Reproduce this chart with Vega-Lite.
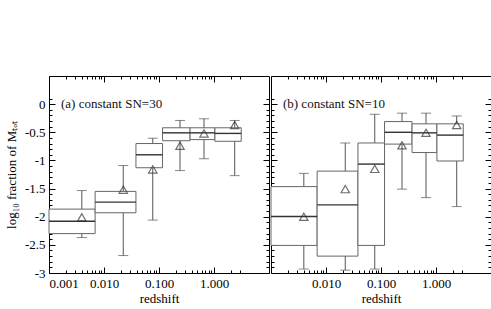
{
  "$schema": "https://vega.github.io/schema/vega-lite/v6.json",
  "padding": {"left": 5, "top": 75, "right": 0, "bottom": 0},
  "background": "white",
  "datasets": {
    "boxes": [
      {"panel": "a", "x1": 0.001, "x2": 0.0069, "xm": 0.00395, "lo": -2.37, "q1": -2.30, "med": -2.08, "q3": -1.865, "hi": -1.535, "mean": -2.01},
      {"panel": "a", "x1": 0.0069, "x2": 0.0381, "xm": 0.0224, "lo": -2.69, "q1": -1.93, "med": -1.74, "q3": -1.55, "hi": -1.09, "mean": -1.52},
      {"panel": "a", "x1": 0.0381, "x2": 0.116, "xm": 0.077, "lo": -2.06, "q1": -1.13, "med": -0.90, "q3": -0.70, "hi": -0.605, "mean": -1.16},
      {"panel": "a", "x1": 0.116, "x2": 0.367, "xm": 0.241, "lo": -1.18, "q1": -0.65, "med": -0.51, "q3": -0.42, "hi": -0.29, "mean": -0.74},
      {"panel": "a", "x1": 0.367, "x2": 1.04, "xm": 0.658, "lo": -0.97, "q1": -0.63, "med": -0.51, "q3": -0.42, "hi": -0.26, "mean": -0.52},
      {"panel": "a", "x1": 1.04, "x2": 3.13, "xm": 2.38, "lo": -1.27, "q1": -0.66, "med": -0.52, "q3": -0.42, "hi": -0.29, "mean": -0.37},
      {"panel": "b", "x1": 0.001, "x2": 0.0069, "xm": 0.00395, "lo": -2.93, "q1": -2.51, "med": -1.995, "q3": -1.465, "hi": -1.23, "mean": -2.0},
      {"panel": "b", "x1": 0.0069, "x2": 0.0381, "xm": 0.0224, "lo": -2.95, "q1": -2.70, "med": -1.79, "q3": -1.19, "hi": -0.69, "mean": -1.51},
      {"panel": "b", "x1": 0.0381, "x2": 0.116, "xm": 0.077, "lo": -2.93, "q1": -2.51, "med": -1.065, "q3": -0.69, "hi": -0.18, "mean": -1.15},
      {"panel": "b", "x1": 0.116, "x2": 0.367, "xm": 0.241, "lo": -1.51, "q1": -0.71, "med": -0.50, "q3": -0.31, "hi": -0.16, "mean": -0.73},
      {"panel": "b", "x1": 0.367, "x2": 1.04, "xm": 0.658, "lo": -1.66, "q1": -0.86, "med": -0.51, "q3": -0.35, "hi": -0.16, "mean": -0.51},
      {"panel": "b", "x1": 1.04, "x2": 3.13, "xm": 2.38, "lo": -1.82, "q1": -1.01, "med": -0.55, "q3": -0.35, "hi": -0.21, "mean": -0.37}
    ],
    "labels": [
      {"panel": "a", "label": "(a) constant SN=30", "lx": 0.00165, "ly": 0},
      {"panel": "b", "label": "(b) constant SN=10", "lx": 0.00165, "ly": 0}
    ]
  },
  "config": {
    "view": {"stroke": null},
    "axis": {
      "grid": false,
      "domainColor": "#000",
      "tickColor": "#000",
      "labelColor": "#000",
      "titleColor": "#000",
      "labelFont": "Liberation Serif",
      "titleFont": "Liberation Serif",
      "labelFontSize": 13,
      "titleFontSize": 13,
      "titleFontWeight": "normal"
    }
  },
  "spacing": 0,
  "hconcat": [
    {
      "width": 220,
      "height": 197,
      "data": {"name": "boxes"},
      "transform": [{"filter": "datum.panel == 'a'"}],
      "layer": [
        {
          "mark": {"type": "rule", "color": "#555"},
          "encoding": {
            "x": {"field": "xm", "type": "quantitative", "scale": {"type": "log", "domain": [0.001, 3.5]},
                  "axis": {"orient": "bottom", "values": [0.001, 0.01, 0.1, 1], "format": ".3f", "tickSize": -6, "labelPadding": 10, "title": "redshift", "titlePadding": 2}},
            "y": {"field": "lo", "type": "quantitative", "scale": {"domain": [-3, 0.2]},
                  "axis": {"orient": "left", "values": [-3, -2.5, -2, -1.5, -1, -0.5, 0], "labelExpr": "'' + datum.value", "tickSize": -6, "labelPadding": 10, "title": "log₁₀ fraction of Mₜₒₜ", "titlePadding": 6}},
            "y2": {"field": "hi"}
          }
        },
        {
          "mark": {"type": "tick", "orient": "horizontal", "color": "#555", "size": 10, "thickness": 1},
          "encoding": {
            "x": {"field": "xm", "type": "quantitative",
                  "axis": {"orient": "bottom", "values": [0.002, 0.003, 0.004, 0.005, 0.006, 0.007, 0.008, 0.009, 0.02, 0.03, 0.04, 0.05, 0.06, 0.07, 0.08, 0.09, 0.2, 0.3, 0.4, 0.5, 0.6, 0.7, 0.8, 0.9, 2, 3], "labels": false, "tickSize": -3, "domain": false, "title": null}},
            "y": {"field": "hi", "type": "quantitative",
                  "axis": {"orient": "left", "values": [-2.9, -2.8, -2.7, -2.6, -2.4, -2.3, -2.2, -2.1, -1.9, -1.8, -1.7, -1.6, -1.4, -1.3, -1.2, -1.1, -0.9, -0.8, -0.7, -0.6, -0.4, -0.3, -0.2, -0.1, 0.1], "labels": false, "tickSize": -3, "domain": false, "title": null}}
          }
        },
        {
          "mark": {"type": "tick", "orient": "horizontal", "color": "#555", "size": 10, "thickness": 1},
          "encoding": {
            "x": {"field": "xm", "type": "quantitative",
                  "axis": {"orient": "top", "values": [0.001, 0.01, 0.1, 1], "labels": false, "tickSize": -6, "title": null}},
            "y": {"field": "lo", "type": "quantitative",
                  "axis": {"orient": "right", "values": [-3, -2.5, -2, -1.5, -1, -0.5, 0], "labels": false, "tickSize": -6, "title": null}}
          }
        },
        {
          "mark": {"type": "rect", "fill": "white", "stroke": "#666", "strokeWidth": 1},
          "encoding": {
            "x": {"field": "x1", "type": "quantitative",
                  "axis": {"orient": "top", "values": [0.002, 0.003, 0.004, 0.005, 0.006, 0.007, 0.008, 0.009, 0.02, 0.03, 0.04, 0.05, 0.06, 0.07, 0.08, 0.09, 0.2, 0.3, 0.4, 0.5, 0.6, 0.7, 0.8, 0.9, 2, 3], "labels": false, "tickSize": -3, "domain": false, "title": null}},
            "x2": {"field": "x2"},
            "y": {"field": "q1", "type": "quantitative",
                  "axis": {"orient": "right", "values": [-2.9, -2.8, -2.7, -2.6, -2.4, -2.3, -2.2, -2.1, -1.9, -1.8, -1.7, -1.6, -1.4, -1.3, -1.2, -1.1, -0.9, -0.8, -0.7, -0.6, -0.4, -0.3, -0.2, -0.1, 0.1], "labels": false, "tickSize": -3, "domain": false, "title": null}},
            "y2": {"field": "q3"}
          }
        },
        {
          "mark": {"type": "rule", "color": "#333", "strokeWidth": 1.4},
          "encoding": {
            "x": {"field": "x1", "type": "quantitative", "axis": null},
            "x2": {"field": "x2"},
            "y": {"field": "med", "type": "quantitative", "axis": null}
          }
        },
        {
          "mark": {"type": "point", "shape": "triangle-up", "filled": false, "color": "#333", "size": 70, "strokeWidth": 1.2},
          "encoding": {
            "x": {"field": "xm", "type": "quantitative", "axis": null},
            "y": {"field": "mean", "type": "quantitative", "axis": null}
          }
        },
        {
          "data": {"name": "labels"},
          "transform": [{"filter": "datum.panel == 'a'"}],
          "mark": {"type": "text", "align": "left", "baseline": "middle", "font": "Liberation Serif", "fontSize": 13, "color": "#111"},
          "encoding": {
            "x": {"field": "lx", "type": "quantitative", "axis": null},
            "y": {"field": "ly", "type": "quantitative", "axis": null},
            "text": {"field": "label"}
          }
        }
      ],
      "resolve": {"axis": {"x": "independent", "y": "independent"}}
    },
    {
      "width": 220,
      "height": 197,
      "data": {"name": "boxes"},
      "transform": [{"filter": "datum.panel == 'b'"}],
      "layer": [
        {
          "mark": {"type": "rule", "color": "#555"},
          "encoding": {
            "x": {"field": "xm", "type": "quantitative", "scale": {"type": "log", "domain": [0.001, 3.5]},
                  "axis": {"orient": "bottom", "values": [0.01, 0.1, 1], "format": ".3f", "tickSize": -6, "labelPadding": 10, "title": "redshift", "titlePadding": 2}},
            "y": {"field": "lo", "type": "quantitative", "scale": {"domain": [-3, 0.2]},
                  "axis": {"orient": "left", "values": [-3, -2.5, -2, -1.5, -1, -0.5, 0], "labels": false, "tickSize": -6, "title": null}},
            "y2": {"field": "hi"}
          }
        },
        {
          "mark": {"type": "tick", "orient": "horizontal", "color": "#555", "size": 10, "thickness": 1},
          "encoding": {
            "x": {"field": "xm", "type": "quantitative",
                  "axis": {"orient": "bottom", "values": [0.002, 0.003, 0.004, 0.005, 0.006, 0.007, 0.008, 0.009, 0.02, 0.03, 0.04, 0.05, 0.06, 0.07, 0.08, 0.09, 0.2, 0.3, 0.4, 0.5, 0.6, 0.7, 0.8, 0.9, 2, 3], "labels": false, "tickSize": -3, "domain": false, "title": null}},
            "y": {"field": "hi", "type": "quantitative",
                  "axis": {"orient": "left", "values": [-2.9, -2.8, -2.7, -2.6, -2.4, -2.3, -2.2, -2.1, -1.9, -1.8, -1.7, -1.6, -1.4, -1.3, -1.2, -1.1, -0.9, -0.8, -0.7, -0.6, -0.4, -0.3, -0.2, -0.1, 0.1], "labels": false, "tickSize": -3, "domain": false, "title": null}}
          }
        },
        {
          "mark": {"type": "tick", "orient": "horizontal", "color": "#555", "size": 10, "thickness": 1},
          "encoding": {
            "x": {"field": "xm", "type": "quantitative",
                  "axis": {"orient": "top", "values": [0.001, 0.01, 0.1, 1], "labels": false, "tickSize": -6, "title": null}},
            "y": {"field": "lo", "type": "quantitative",
                  "axis": {"orient": "right", "values": [-3, -2.5, -2, -1.5, -1, -0.5, 0], "labels": false, "tickSize": -6, "title": null}}
          }
        },
        {
          "mark": {"type": "rect", "fill": "white", "stroke": "#666", "strokeWidth": 1},
          "encoding": {
            "x": {"field": "x1", "type": "quantitative",
                  "axis": {"orient": "top", "values": [0.002, 0.003, 0.004, 0.005, 0.006, 0.007, 0.008, 0.009, 0.02, 0.03, 0.04, 0.05, 0.06, 0.07, 0.08, 0.09, 0.2, 0.3, 0.4, 0.5, 0.6, 0.7, 0.8, 0.9, 2, 3], "labels": false, "tickSize": -3, "domain": false, "title": null}},
            "x2": {"field": "x2"},
            "y": {"field": "q1", "type": "quantitative",
                  "axis": {"orient": "right", "values": [-2.9, -2.8, -2.7, -2.6, -2.4, -2.3, -2.2, -2.1, -1.9, -1.8, -1.7, -1.6, -1.4, -1.3, -1.2, -1.1, -0.9, -0.8, -0.7, -0.6, -0.4, -0.3, -0.2, -0.1, 0.1], "labels": false, "tickSize": -3, "domain": false, "title": null}},
            "y2": {"field": "q3"}
          }
        },
        {
          "mark": {"type": "rule", "color": "#333", "strokeWidth": 1.4},
          "encoding": {
            "x": {"field": "x1", "type": "quantitative", "axis": null},
            "x2": {"field": "x2"},
            "y": {"field": "med", "type": "quantitative", "axis": null}
          }
        },
        {
          "mark": {"type": "point", "shape": "triangle-up", "filled": false, "color": "#333", "size": 70, "strokeWidth": 1.2},
          "encoding": {
            "x": {"field": "xm", "type": "quantitative", "axis": null},
            "y": {"field": "mean", "type": "quantitative", "axis": null}
          }
        },
        {
          "data": {"name": "labels"},
          "transform": [{"filter": "datum.panel == 'b'"}],
          "mark": {"type": "text", "align": "left", "baseline": "middle", "font": "Liberation Serif", "fontSize": 13, "color": "#111"},
          "encoding": {
            "x": {"field": "lx", "type": "quantitative", "axis": null},
            "y": {"field": "ly", "type": "quantitative", "axis": null},
            "text": {"field": "label"}
          }
        }
      ],
      "resolve": {"axis": {"x": "independent", "y": "independent"}}
    }
  ]
}
